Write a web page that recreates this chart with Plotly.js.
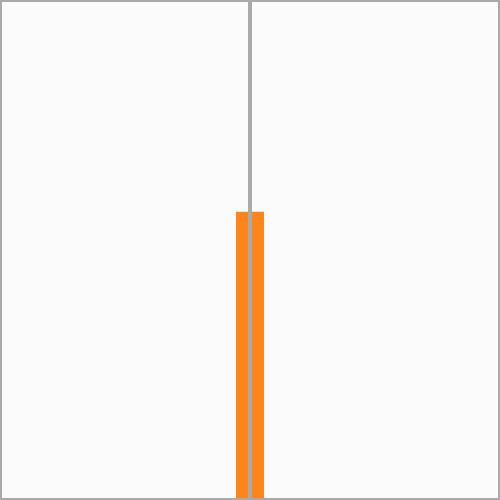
<!DOCTYPE html>
<html>
<head>
<meta charset="utf-8">
<script src="https://cdn.plot.ly/plotly-3.0.1.min.js"></script>
<style>html,body{margin:0;padding:0;background:#fbfbfb;}#chart{width:500px;height:500px;}</style>
</head>
<body>
<div id="chart"></div>
<script>
const categories = [0];
const values = [57.7];

Plotly.newPlot('chart', [{
  type: 'bar',
  x: categories,
  y: values,
  width: 0.565,
  marker: {color: '#ff8419', line: {width: 0}},
  hoverinfo: 'none'
}], {
  width: 500, height: 500,
  margin: {l: 2, r: 2, t: 2, b: 2, pad: 0},
  paper_bgcolor: '#fbfbfb',
  plot_bgcolor: '#fbfbfb',
  showlegend: false,
  xaxis: {
    range: [-5, 5], showgrid: false, showticklabels: false, ticks: '',
    zeroline: true, zerolinecolor: '#aaaaaa', zerolinewidth: 4, zerolinelayer: 'above traces',
    showline: true, mirror: true, linecolor: '#aaaaaa', linewidth: 2
  },
  yaxis: {
    range: [0, 100], showgrid: false, showticklabels: false, ticks: '', zeroline: false,
    showline: true, mirror: true, linecolor: '#aaaaaa', linewidth: 2
  }
}, {staticPlot: true});
</script>
</body>
</html>
